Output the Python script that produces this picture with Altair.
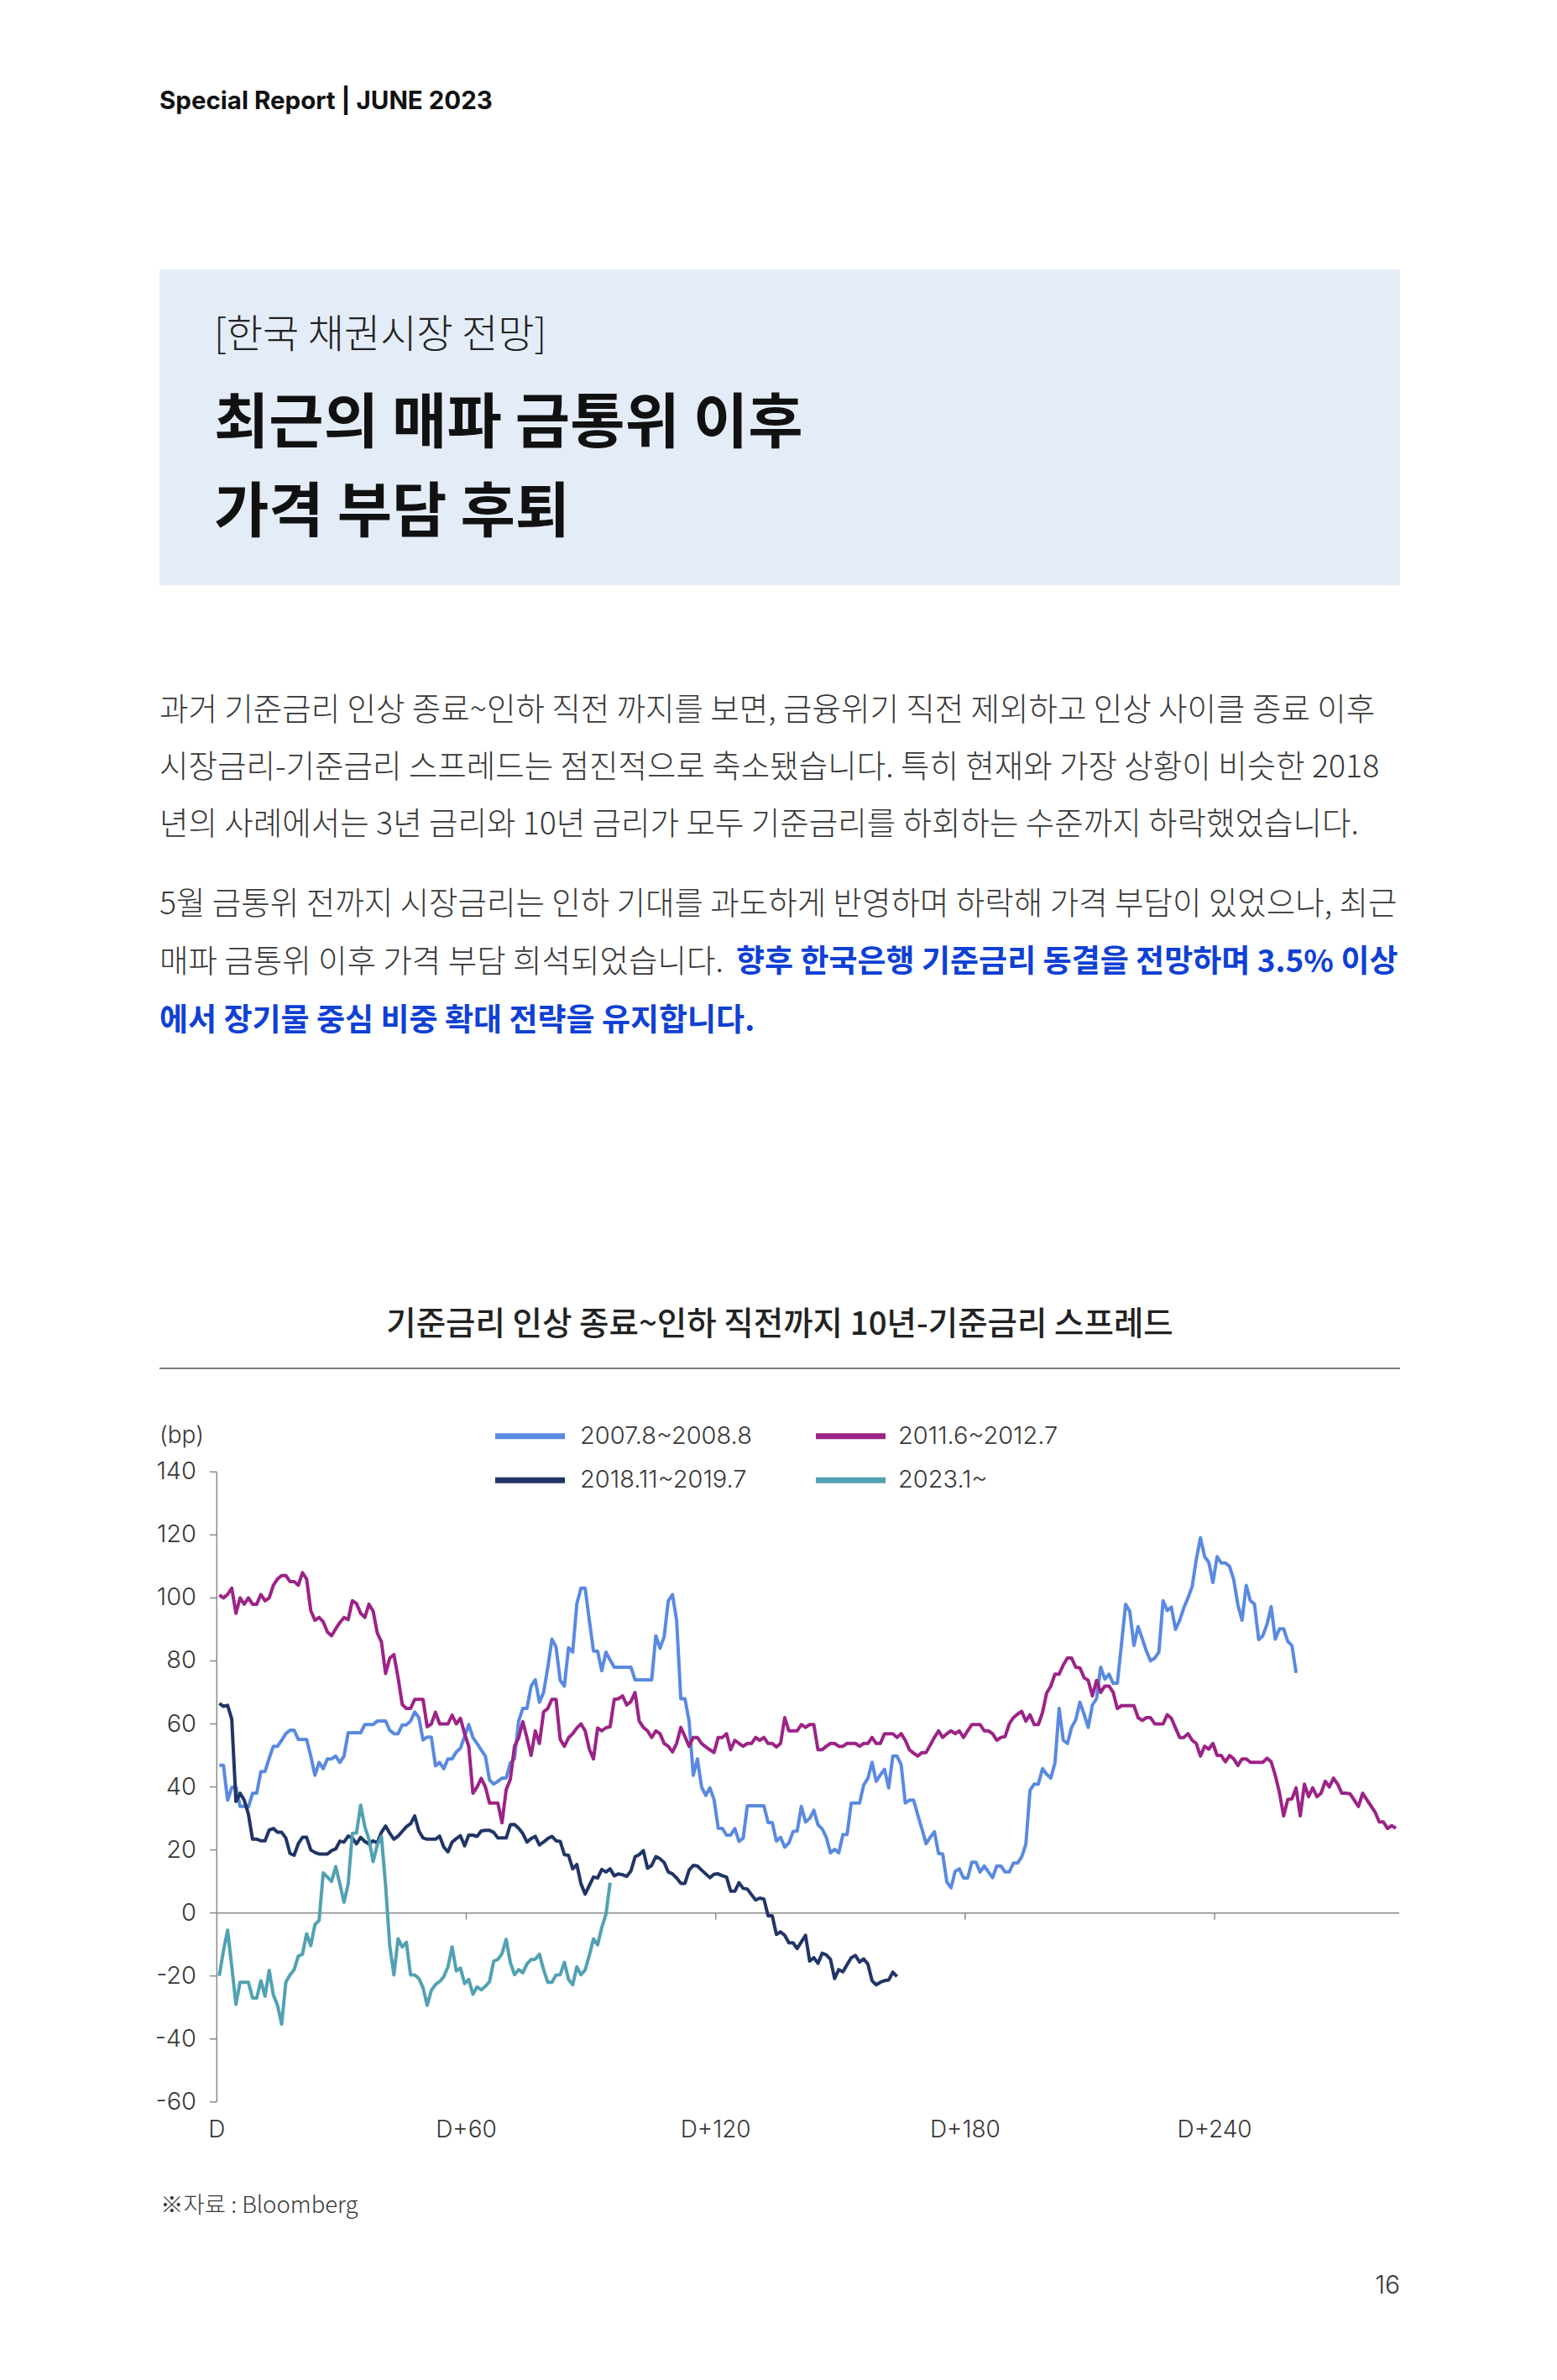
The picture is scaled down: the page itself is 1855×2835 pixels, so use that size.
import altair as alt
import pandas as pd

# ---------------- data ----------------
series_names = ["2007.8~2008.8", "2011.6~2012.7", "2018.11~2019.7", "2023.1~"]
series_colors = ["#5a8ae0", "#9c2387", "#213566", "#52a1b3"]

s2007 = [46.9, 46.9, 35.8, 39.8, 40, 33.8, 33.8, 33.6, 38, 38, 44.9, 44.9, 49.1, 52.9, 52.9, 54.8, 56.9, 58, 58, 55.1,
         55.1, 55.1, 49.8, 43.7, 47.8, 45.8, 48.9, 48.9, 49.8, 47.8, 49.8, 57.2, 57.2, 57.2, 57.2, 59.8, 59.8, 59.8, 60.9, 60.9,
         60.9, 58, 56.9, 56.9, 59.7, 59.7, 60.9, 63.8, 62, 54.9, 55.8, 55.8, 46.7, 47.8, 45.8, 48.9, 48.9, 51.1, 52.3, 56,
         59.8, 55.7, 53.8, 51.7, 49.8, 42.2, 40.9, 41.8, 42.8, 42.8, 47.6, 48.9, 60.9, 64.9, 64.9, 72, 74, 66.9, 70, 77.8,
         86.9, 84.4, 73.8, 72, 84.2, 82.8, 98.2, 103.1, 103.1, 92.9, 83.1, 83.1, 76.9, 82.8, 80.3, 78, 78, 78, 78, 78,
         74, 74, 74, 74, 74, 88, 84, 87.7, 99.1, 101.1, 92.9, 68, 68, 60.9, 43.7, 48.9, 40, 37.3, 39.7, 36,
         26.9, 26.8, 24.7, 24.7, 26.8, 22.7, 23.7, 34, 34, 34, 34, 34, 28.7, 28.7, 22.8, 24, 20.9, 22.2, 25.8, 26,
         33.8, 28.9, 30, 32.6, 28, 26.7, 24, 19.1, 20.2, 19.1, 24.9, 24.9, 34.9, 34.9, 34.9, 40.6, 42.7, 47.8, 41.8, 43.8,
         45.6, 39.7, 49.8, 49.8, 47.1, 34.9, 35.8, 35.8, 31.1, 26.7, 22, 24, 25.8, 18.9, 18.7, 9.8, 8, 13.2, 14, 11.1,
         11.1, 16.1, 16.1, 13, 14.9, 13, 11.2, 14.9, 14.9, 13, 13, 15.8, 15.8, 17.8, 21.8, 38.9, 40.9, 40.9, 45.8, 44,
         42.8, 47.6, 64.9, 54.8, 53.8, 58.9, 61.3, 66.9, 63.1, 58.9, 66, 68, 78, 74.2, 75.8, 72.9, 72.9, 85.3, 98, 95.7,
         84.9, 90.9, 87.1, 83.1, 80, 80.9, 82.8, 99.1, 96, 97.1, 90, 92.9, 96.9, 100, 103.6, 112.3, 119.1, 113.1, 111.3, 104.9,
         113.1, 111.1, 111.1, 110, 105.8, 97.8, 92.9, 104, 99.1, 98, 86.8, 88, 91.6, 97.2, 86.9, 90.2, 90.2, 86.2, 84.9, 76.2]

s2011 = [100.9, 100, 101.1, 103.1, 95.1, 100, 98, 100, 98, 98, 101.1, 99.1, 100, 104, 106, 107.1, 107.1, 105.2, 105.2, 104,
         108, 106, 96, 92.9, 93.8, 92.4, 89.2, 88, 90.2, 92.2, 93.8, 93.1, 99.1, 98.2, 95.1, 93.8, 98, 95.8, 88.9, 86,
         76, 80.9, 82, 74.7, 66.2, 64.9, 64.9, 67.8, 67.8, 67.8, 59.1, 60, 63.7, 60, 60, 60, 62.8, 60, 61.8, 56.9,
         52.9, 38, 40, 42.7, 40, 34.9, 34.9, 34.9, 28.6, 39.1, 42.4, 52.9, 55.6, 60.7, 55.6, 50, 57.8, 53.8, 63.8, 64.9,
         67.8, 67.8, 55.1, 52.9, 55.6, 56.9, 58.7, 60, 57.8, 52, 48.9, 58.7, 57.8, 58.8, 59.1, 67.8, 68, 68.9, 66, 67.1,
         70, 60.9, 58.9, 57.8, 55.7, 57.8, 56.9, 53.8, 52.9, 51.1, 53.8, 58.9, 56, 52.9, 55.7, 55.7, 53.8, 52.7, 51.8, 50.9,
         55.7, 55.7, 56.9, 51.8, 54.8, 53.8, 52.9, 53.8, 53.8, 55.7, 54.8, 55.7, 53.8, 53.8, 52.7, 53.8, 62, 57.8, 57.8, 57.8,
         59.8, 58.9, 59.8, 59.8, 51.8, 51.8, 52.9, 53.8, 53.8, 52.9, 52.9, 53.8, 53.8, 53.8, 52.9, 53.8, 53.8, 55.7, 53.8, 53.8,
         56.9, 56.9, 56.9, 55.7, 56.9, 54.8, 51.8, 50.7, 49.8, 50.9, 50.9, 53.3, 55.7, 57.8, 55.7, 56.9, 57.8, 56.9, 57.8, 55.7,
         57.8, 59.8, 59.8, 59.8, 57.8, 57.8, 56.9, 54.8, 55.7, 56, 60, 62, 63.1, 64, 60.9, 62.9, 59.8, 59.8, 63.6, 69.8,
         72, 75.8, 75.8, 78.7, 80.9, 80.9, 78, 77.8, 74.7, 73.8, 68.9, 73.8, 70, 72, 72, 70, 64.9, 65.8, 65.8, 65.8,
         65.8, 62, 61.1, 62, 62, 60, 60, 60, 62.9, 61.8, 58.7, 55.7, 55.7, 56.9, 54.8, 53.8, 49.8, 52.9, 52, 53.8,
         50, 50, 48, 50, 48.9, 46.8, 48.9, 48.9, 47.8, 47.8, 47.8, 47.8, 49.1, 48, 43.6, 38.2, 30.8, 36, 36.2, 39.7,
         30.8, 40.9, 36.9, 39.7, 36.9, 38, 41.8, 40, 42.8, 40.9, 38, 38, 37.8, 35.8, 33.8, 38, 36, 34, 32, 28.9,
         28.9, 26.8, 27.7, 26.9]

s2018 = [66.5, 65.6, 65.9, 61.5, 35.4, 38, 35.8, 31.4, 23.4, 23.4, 22.9, 22.9, 26.3, 26.8, 25.6, 25.6, 23.8, 18.9, 18.3, 22,
         24, 24, 20, 19.2, 18.7, 18.7, 18.7, 19.8, 20.3, 22.8, 22.5, 24.4, 23.8, 21.9, 24, 22.7, 21.9, 22.9, 22.2, 25.6,
         27.6, 25.3, 23.4, 24.4, 25.9, 27.4, 28.3, 30.8, 26, 23.8, 23.4, 23.4, 23.4, 24.4, 20.9, 19.4, 22.5, 23.6, 24.5, 21.3,
         24.7, 24.7, 24.3, 26, 26.2, 26.2, 25.6, 23.8, 23.8, 23.8, 28, 28.1, 26.9, 25.2, 22.5, 23.6, 24.3, 21.6, 22.5, 23.6,
         24.3, 22.9, 22.7, 18.5, 18.3, 14, 15.4, 9.2, 6, 8.7, 11.4, 11.1, 13.8, 13, 14, 11.8, 12.4, 12.1, 11.6, 13.3,
         17.8, 18.5, 19.8, 14.2, 15.1, 17.9, 17.2, 16, 13, 12.4, 11.1, 9.4, 9.4, 13.6, 15.1, 14.9, 13.6, 12.4, 11.2, 12.3,
         12.4, 11.8, 11.4, 6.9, 6.9, 9.6, 7.8, 7.6, 5.8, 4.1, 4.7, 4.4, -0.9, -0.9, -6.8, -6, -7.1, -9.5, -9.5, -11.3,
         -9.2, -7.1, -15.3, -14.2, -16, -12.8, -13.3, -14.7, -20.8, -18, -18.7, -16.4, -14.2, -13.5, -15.6, -14.6, -16.2, -21.5, -22.8, -22,
         -21.5, -21.3, -18.8, -20.2]

s2023 = [-20, -12, -5.5, -17, -29, -22, -22, -22, -27, -27, -21.5, -26.4, -18.2, -26, -29.3, -35.3, -22, -19.7, -18, -13.7,
         -13.1, -6.6, -10.4, -3.7, -2.4, 12.7, 11.4, 10, 14.7, 9.2, 3.4, 9.2, 25.2, 25.4, 34.2, 27.4, 23.4, 16.3, 21.6, 24.3,
         8.7, -10.4, -19.7, -8.2, -10.8, -9.3, -19.7, -19.7, -20.8, -23.7, -29.3, -24.6, -22.7, -21.8, -20.2, -17.1, -10.8, -18.4, -17.5, -22.4,
         -21.1, -25.8, -23.5, -24.4, -23.3, -21.8, -15.3, -14.8, -12.9, -8.4, -15.7, -19.6, -18, -19, -16.2, -14.8, -14.7, -13.1, -18, -22,
         -22, -19.7, -19.6, -15.7, -21.1, -22.8, -17.1, -19.6, -18.1, -13.5, -8.2, -10.1, -4.6, -0.4, 9.6]

series_values = [s2007, s2011, s2018, s2023]

y_ticks = [-60, -40, -20, 0, 20, 40, 60, 80, 100, 120, 140]
x_ticks = [0, 60, 120, 180, 240]
x_tick_labels = ["D", "D+60", "D+120", "D+180", "D+240"]

header_text = "Special Report | JUNE 2023"
box_kicker = "[한국 채권시장 전망]"
box_title = ["최근의 매파 금통위 이후", "가격 부담 후퇴"]
body_lines = [
    "과거 기준금리 인상 종료~인하 직전 까지를 보면, 금융위기 직전 제외하고 인상 사이클 종료 이후",
    "시장금리-기준금리 스프레드는 점진적으로 축소됐습니다. 특히 현재와 가장 상황이 비슷한 2018",
    "년의 사례에서는 3년 금리와 10년 금리가 모두 기준금리를 하회하는 수준까지 하락했었습니다.",
    "5월 금통위 전까지 시장금리는 인하 기대를 과도하게 반영하며 하락해 가격 부담이 있었으나, 최근",
    "매파 금통위 이후 가격 부담 희석되었습니다.",
]
body_blue = ["향후 한국은행 기준금리 동결을 전망하며 3.5% 이상", "에서 장기물 중심 비중 확대 전략을 유지합니다."]
chart_title = "기준금리 인상 종료~인하 직전까지 10년-기준금리 스프레드"
unit_label = "(bp)"
source_text = "※자료 : Bloomberg"
page_no = "16"

# ---------------- styling ----------------
FONT = 'Inter, "Noto Sans CJK KR", sans-serif'
KFONT = '"Noto Sans CJK KR", sans-serif'
AXIS_COLOR = "#8a8a8a"
TEXT_COLOR = "#383838"

one = pd.DataFrame({"k": [0]})

xs = alt.Scale(domain=[0, 284.4], range=[250.3, 1659], nice=False, zero=False)
ys = alt.Scale(domain=[-60, 140], range=[2495.8, 1745.3], nice=False, zero=False)


def txt(text, x, y, size, weight=400, color=TEXT_COLOR, align="left", font=FONT):
    return alt.Chart(one).mark_text(
        text=text, align=align, baseline="middle", fontSize=size,
        fontWeight=weight, color=color, font=font
    ).encode(x=alt.value(x), y=alt.value(y))


layers = []

# header
layers.append(txt(header_text, 182, 113, 29.5, weight=700, color="#111111"))

# title box
layers.append(alt.Chart(one).mark_rect(color="#e4ecf8").encode(
    x=alt.value(182), x2=alt.value(1660), y=alt.value(313), y2=alt.value(689)))
layers.append(txt(box_kicker, 247, 392, 47, weight=300, color="#222222", font=KFONT))
layers.append(txt(box_title[0], 247, 498, 71, weight=700, color="#111111", font=KFONT))
layers.append(txt(box_title[1], 247, 604, 71, weight=700, color="#111111", font=KFONT))

# body text
body_y = [838.7, 907, 975, 1070, 1139]
for line, yy in zip(body_lines, body_y):
    layers.append(txt(line, 182, yy, 37.5, weight=300, font=KFONT))
layers.append(txt(body_blue[0], 869, 1139, 37, weight=700, color="#1040d4", font=KFONT))
layers.append(txt(body_blue[1], 182, 1209, 37, weight=700, color="#1040d4", font=KFONT))

# chart title and rule
layers.append(txt(chart_title, 921, 1570, 38.5, weight=500, color="#222222", align="center", font=KFONT))
layers.append(alt.Chart(one).mark_rule(color="#555555", strokeWidth=1.5).encode(
    x=alt.value(182), x2=alt.value(1660), y=alt.value(1622)))

# unit label
layers.append(txt(unit_label, 182, 1703, 28, weight=300))

# legend
sw_x = [(582, 665), (964, 1047)]
lab_x = [683, 1062]
row_y = [1702.7, 1755.3]
for k, (name, col) in enumerate(zip(series_names, series_colors)):
    c, r = k % 2, k // 2
    layers.append(alt.Chart(one).mark_rule(color=col, strokeWidth=7).encode(
        x=alt.value(sw_x[c][0]), x2=alt.value(sw_x[c][1]), y=alt.value(row_y[r])))
    layers.append(txt(name, lab_x[c], row_y[r], 29, weight=300))

# axes
yax = pd.DataFrame({"x": [0], "y1": [-60], "y2": [140]})
layers.append(alt.Chart(yax).mark_rule(color=AXIS_COLOR, strokeWidth=1.5).encode(
    x=alt.X("x:Q", scale=xs, axis=None), y=alt.Y("y1:Q", scale=ys, axis=None), y2="y2:Q"))

yt = pd.DataFrame({"v": y_ticks, "lab": [str(v) for v in y_ticks]})
layers.append(alt.Chart(yt).mark_rule(color=AXIS_COLOR, strokeWidth=1.5).encode(
    x=alt.value(242), x2=alt.value(250.3), y=alt.Y("v:Q", scale=ys, axis=None)))
layers.append(alt.Chart(yt).mark_text(align="right", baseline="middle", fontSize=29,
                                      fontWeight=300, color=TEXT_COLOR, font=FONT).encode(
    x=alt.value(226), y=alt.Y("v:Q", scale=ys, axis=None), text="lab:N"))

zl = pd.DataFrame({"x1": [0], "x2": [284.4], "y": [0]})
layers.append(alt.Chart(zl).mark_rule(color=AXIS_COLOR, strokeWidth=1.5).encode(
    x=alt.X("x1:Q", scale=xs, axis=None), x2="x2:Q", y=alt.Y("y:Q", scale=ys, axis=None)))

xt = pd.DataFrame({"d": x_ticks[1:], "y1": [0] * 4, "y2": [-2.13] * 4})
layers.append(alt.Chart(xt).mark_rule(color=AXIS_COLOR, strokeWidth=1.5).encode(
    x=alt.X("d:Q", scale=xs, axis=None), y=alt.Y("y1:Q", scale=ys, axis=None), y2="y2:Q"))

xl = pd.DataFrame({"d": x_ticks, "lab": x_tick_labels})
layers.append(alt.Chart(xl).mark_text(align="center", baseline="middle", fontSize=28,
                                      fontWeight=300, color=TEXT_COLOR, font=FONT).encode(
    x=alt.X("d:Q", scale=xs, axis=None), y=alt.value(2530), text="lab:N"))

# series lines
for name, col, vals in zip(series_names, series_colors, series_values):
    df = pd.DataFrame({"day": [i + 0.6 for i in range(len(vals))], "value": vals})
    layers.append(alt.Chart(df).mark_line(color=col, strokeWidth=4, strokeJoin="round").encode(
        x=alt.X("day:Q", scale=xs, axis=None), y=alt.Y("value:Q", scale=ys, axis=None)))

# source and page number
layers.append(txt(source_text, 183, 2620, 27.5, weight=300, font=KFONT))
layers.append(txt(page_no, 1660, 2715, 30, weight=300, align="right"))

chart = alt.layer(*layers).properties(
    width=1839, height=2819, padding=0, background="white"
).configure_view(strokeWidth=0)

chart.save("out.html", embed_options={"renderer": "svg", "actions": False})
